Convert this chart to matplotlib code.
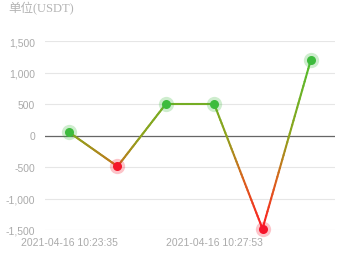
import matplotlib as mpl
import matplotlib.pyplot as plt
from matplotlib.collections import LineCollection
from matplotlib.colors import LinearSegmentedColormap, Normalize
import numpy as np

plt.rcParams['font.family'] = ['Liberation Sans', 'Noto Sans CJK SC', 'DejaVu Sans']

times = ['2021-04-16 10:23:35', '2021-04-16 10:24:51', '2021-04-16 10:26:12',
         '2021-04-16 10:27:53', '2021-04-16 10:29:08', '2021-04-16 10:30:41']
values = [50, -490, 500, 500, -1480, 1200]
yticks = [-1500, -1000, -500, 0, 500, 1000, 1500]
shown_ticks = [0, 3]

fig = plt.figure(figsize=(3.64, 2.55), dpi=100)
ax = fig.add_axes([45/364, 1 - 231/255, 290/364, 189/255])

x = np.arange(len(values))
y = np.array(values, dtype=float)

# gradient line coloured by value
cmap = LinearSegmentedColormap.from_list(
    'pl', [(0.0, '#ff1a22'), (0.3, '#d8641c'), (0.55, '#8fa21c'), (1.0, '#52bd2e')])
norm = Normalize(vmin=-1500, vmax=1200)
xs, ys = [], []
for i in range(len(x) - 1):
    t = np.linspace(0, 1, 40)
    xs.extend(x[i] + (x[i+1] - x[i]) * t)
    ys.extend(y[i] + (y[i+1] - y[i]) * t)
xs, ys = np.array(xs), np.array(ys)
pts = np.column_stack([xs, ys]).reshape(-1, 1, 2)
segs = np.concatenate([pts[:-1], pts[1:]], axis=1)
lc = LineCollection(segs, cmap=cmap, norm=norm, linewidth=1.5, zorder=3, capstyle='round')
lc.set_array((ys[:-1] + ys[1:]) / 2)
ax.add_collection(lc)

for xi, yi in zip(x, y):
    c = '#3dbb3d' if yi >= 0 else '#f5142a'
    ax.plot(xi, yi, 'o', ms=11, color=c, alpha=0.25, mec='none', zorder=4, clip_on=False)
    ax.plot(xi, yi, 'o', ms=6.5, color=c, mec='none', zorder=5, clip_on=False)

ax.set_xlim(-0.5, 5.5)
ax.set_ylim(-1500, 1500)
ax.set_yticks(yticks)
ax.set_yticklabels([f'{v:,}' for v in yticks])
ax.set_xticks(shown_ticks)
ax.set_xticklabels([times[i] for i in shown_ticks])
ax.grid(axis='y', color='#e6e6e6', linewidth=0.8)
ax.axhline(0, color='#666666', linewidth=0.9, zorder=2)
for s in ax.spines.values():
    s.set_visible(False)
ax.tick_params(length=0, labelsize=7.5, colors='#aaaaaa')
ax.tick_params(axis='y', pad=7)
ax.tick_params(axis='x', pad=5)

fig.text(8/364, 1 - 9/255, '单位(USDT)', fontsize=9, color='#b4b4b4', va='center', ha='left',
         family=['Liberation Serif', 'Noto Sans CJK SC'])

fig.savefig('out.png', dpi=100)
